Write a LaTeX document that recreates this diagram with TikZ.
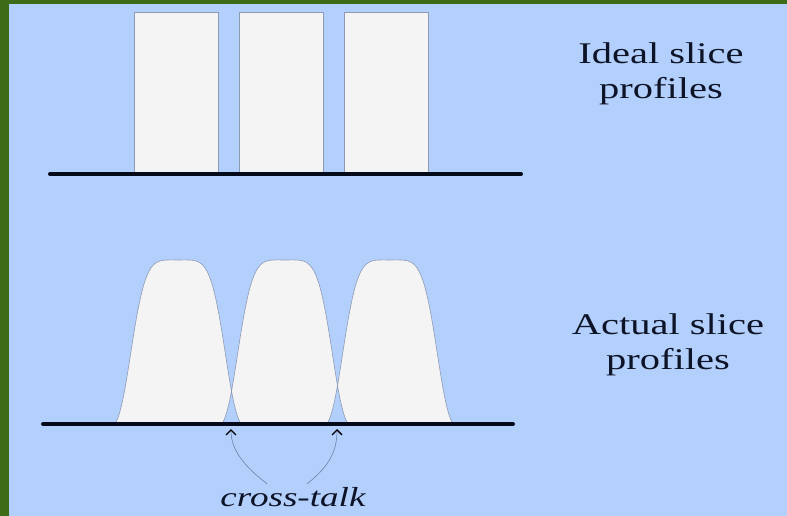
\documentclass[tikz,border=0pt]{standalone}
\usepackage{fontspec}
\setmainfont{Liberation Serif}[FakeStretch=1.35]
\usetikzlibrary{arrows.meta, positioning}
\definecolor{frgreen}{HTML}{3E6B18}
\definecolor{bgblue}{HTML}{B3CFFC}
\definecolor{slicefill}{HTML}{F4F4F4}
\definecolor{sliceedge}{HTML}{8C9AB4}
\definecolor{axisblack}{HTML}{050A1A}
\definecolor{ctblue}{HTML}{6A84A8}
\definecolor{txtnavy}{HTML}{0E1428}

\begin{document}
\begin{tikzpicture}[
    x=1pt, y=-1pt,
    slicebox/.style={rectangle, draw=sliceedge, fill=slicefill, line width=0.6pt,
                     minimum width=84pt, minimum height=161pt, inner sep=0pt},
    bump/.style={draw=sliceedge, fill=slicefill, line width=0.6pt, even odd rule},
    axisline/.style={line width=4pt, axisblack, line cap=round},
    label/.style={align=center, text=txtnavy, font=\fontsize{30}{35}\selectfont},
    xarrow/.style={-{Straight Barb[length=5pt, width=10pt, line width=1.4pt, color=black]},
                   draw=ctblue, line width=0.6pt}
  ]
    % frame and background
    \useasboundingbox (0,0) rectangle (787,516);
    \fill[frgreen] (0,0) rectangle (787,516);
    \fill[bgblue] (9,4) rectangle (787,516);

    % ideal slice profiles
    \node[slicebox] (ideal1) at (176.5,92.5) {};
    \node[slicebox] (ideal2) at (281.5,92.5) {};
    \node[slicebox] (ideal3) at (386,92.5) {};
    \coordinate (topL) at (50,174);
    \coordinate (topR) at (521,174);
    \draw[axisline] (topL) -- (topR);
    \node[label] (idealtxt) at (661,74) {Ideal slice\\profiles};

    % actual slice profiles
    \draw[bump]
      \foreach \c in {178,285,390}{
        plot[domain=-63:63, samples=100]
          ({\c+\x}, {424-170*(exp(-((abs(\x)/49.5)^5))-0.035)}) -- cycle
      };
    \coordinate (botL) at (43,424);
    \coordinate (botR) at (513,424);
    \draw[axisline] (botL) -- (botR);
    \node[label] (actualtxt) at (668,345) {Actual slice\\profiles};

    % cross-talk
    \node[text=txtnavy, font=\fontsize{27.5}{32}\selectfont\itshape] (xtalk) at (293,497) {cross-talk};
    \coordinate (gap1) at (231,429);
    \coordinate (gap2) at (337,429);
    \draw[xarrow] ([xshift=-26pt]xtalk.north) .. controls (244,466) and (231,450) .. (gap1);
    \draw[xarrow] ([xshift=14pt]xtalk.north) .. controls (330,466) and (337,450) .. (gap2);
  \end{tikzpicture}
\end{document}
